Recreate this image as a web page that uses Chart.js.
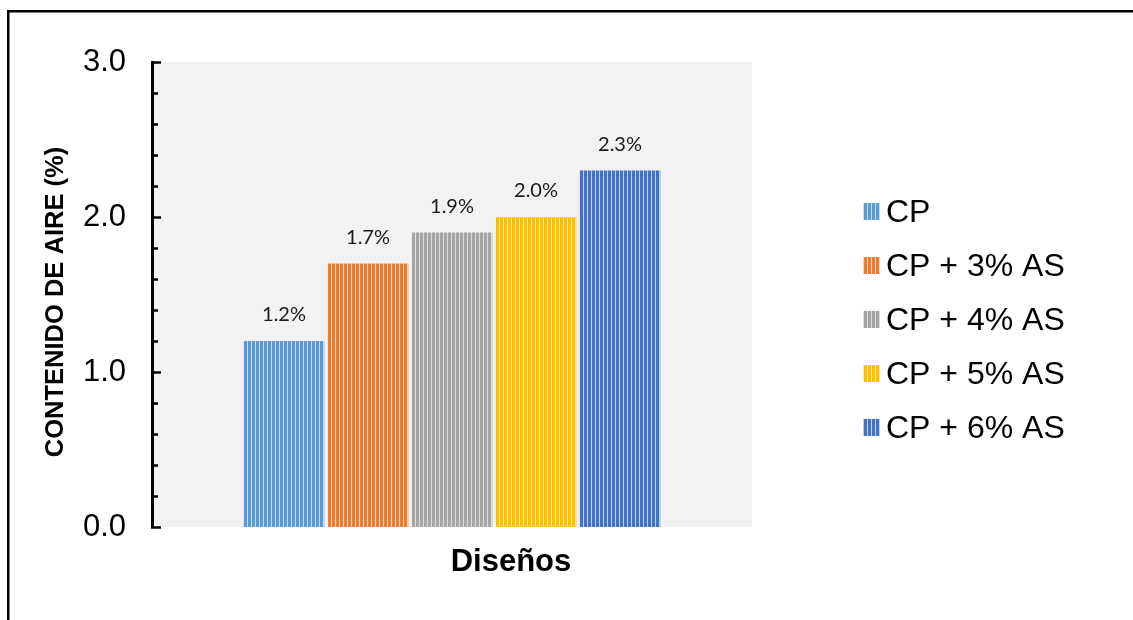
<!DOCTYPE html>
<html>
<head>
<meta charset="utf-8">
<script src="https://cdn.jsdelivr.net/npm/chart.js@4.4.1/dist/chart.umd.min.js"></script>
<style>
  html, body { margin: 0; padding: 0; background: #fff; }
  #wrap { width: 1133px; height: 620px; position: relative; }
</style>
</head>
<body>
<div id="wrap"><canvas id="myChart" width="1133" height="620"></canvas></div>
<script>
// chart data
const categories = ['Diseños'];
const seriesNames = ['CP', 'CP + 3% AS', 'CP + 4% AS', 'CP + 5% AS', 'CP + 6% AS'];
const seriesValues = [1.2, 1.7, 1.9, 2.0, 2.3];
const seriesColors = ['#5b9bd5', '#ed7d31', '#a5a5a5', '#ffc000', '#4472c4'];
const yTicksMajor = [0, 1, 2, 3];

// mix a hex colour with white
function tint(hex, amt){
    var r = parseInt(hex.substr(1,2),16), g = parseInt(hex.substr(3,2),16), b = parseInt(hex.substr(5,2),16);
    r = Math.round(r + (255-r)*amt); g = Math.round(g + (255-g)*amt); b = Math.round(b + (255-b)*amt);
    return 'rgb('+r+','+g+','+b+')';
}

// vertical stripe fill like the office "narrow vertical" pattern
function stripes(hex){
    var c = document.createElement('canvas');
    c.width = 4; c.height = 4;
    var x = c.getContext('2d');
    x.fillStyle = hex;
    x.fillRect(0, 0, 3, 4);
    x.fillStyle = tint(hex, 0.65);
    x.fillRect(3, 0, 1, 4);
    return x.createPattern(c, 'repeat');
}

var patterns = seriesColors.map(stripes);

var datasets = seriesNames.map(function(name, i){
    return {
        label: name,
        data: [seriesValues[i]],
        backgroundColor: patterns[i],
        borderWidth: 0
    };
});

var decor = {
    id: 'decor',
    beforeDraw: function(chart){
        var ctx = chart.ctx, a = chart.chartArea;
        ctx.save();
        ctx.fillStyle = '#f2f2f2';
        ctx.fillRect(a.left, a.top, a.right - a.left, a.bottom - a.top);
        ctx.restore();
    },
    afterDatasetsDraw: function(chart){
        var ctx = chart.ctx;
        ctx.save();
        ctx.font = '20px Lato';
        ctx.fillStyle = '#1a1a1a';
        ctx.textAlign = 'center';
        ctx.textBaseline = 'middle';
        chart.data.datasets.forEach(function(ds, i){
            var bar = chart.getDatasetMeta(i).data[0];
            ctx.fillText(ds.data[0].toFixed(1) + '%', bar.x, bar.y - 26);
        });
        ctx.restore();
    },
    afterDraw: function(chart){
        var ctx = chart.ctx, y = chart.scales.y, a = chart.chartArea;
        ctx.save();
        // inside tick marks
        ctx.strokeStyle = '#000';
        ctx.lineWidth = 2.5;
        y.ticks.forEach(function(t){
            var py = Math.round(y.getPixelForValue(t.value)) + 0.5;
            var major = Math.abs(t.value - Math.round(t.value)) < 1e-6;
            ctx.beginPath();
            ctx.moveTo(a.left - 1, py);
            ctx.lineTo(a.left + (major ? 9 : 6), py);
            ctx.stroke();
        });
        // axis titles
        ctx.fillStyle = '#000';
        ctx.textAlign = 'center';
        ctx.textBaseline = 'middle';
        ctx.font = 'bold 31px "Liberation Sans"';
        ctx.fillText('Diseños', 511, 562);
        ctx.translate(56, 302);
        ctx.rotate(-Math.PI / 2);
        ctx.font = 'bold 25.5px "Liberation Sans"';
        ctx.fillText('CONTENIDO DE AIRE (%)', 0, 0);
        ctx.setTransform(1, 0, 0, 1, 0, 0);
        // legend
        ctx.font = '32px "Liberation Sans"';
        ctx.textAlign = 'left';
        chart.data.datasets.forEach(function(ds, i){
            var cy = 212 + i * 54;
            ctx.fillStyle = ds.backgroundColor;
            ctx.fillRect(863, cy - 9, 17, 17);
            ctx.fillStyle = '#000';
            ctx.fillText(ds.label, 886, cy + 1);
        });
        // outer frame
        ctx.fillStyle = '#000';
        ctx.fillRect(7, 10, 1126, 2.5);
        ctx.fillRect(7, 10, 2.5, 610);
        ctx.restore();
    }
};

var ctx = document.getElementById('myChart').getContext('2d');
window.myChart = new Chart(ctx, {
    type: 'bar',
    data: { labels: categories, datasets: datasets },
    options: {
        responsive: false,
        animation: false,
        layout: { padding: { left: 0, top: 62, right: 381, bottom: 93 } },
        datasets: { bar: { categoryPercentage: 0.7, barPercentage: 0.96 } },
        plugins: { legend: { display: false }, tooltip: { enabled: false } },
        scales: {
            x: { display: false },
            y: {
                min: 0, max: 3,
                afterFit: function(s){ s.width = 152; },
                grid: { display: false, drawTicks: false },
                border: { display: true, color: '#000', width: 3 },
                ticks: {
                    stepSize: 0.2,
                    autoSkip: false,
                    padding: 26,
                    color: '#000',
                    font: { family: 'Liberation Sans', size: 31 },
                    callback: function(v){
                        return yTicksMajor.indexOf(Math.round(v * 10) / 10) >= 0 ? Number(v).toFixed(1) : '';
                    }
                }
            }
        }
    },
    plugins: [decor]
});
</script>
</body>
</html>
